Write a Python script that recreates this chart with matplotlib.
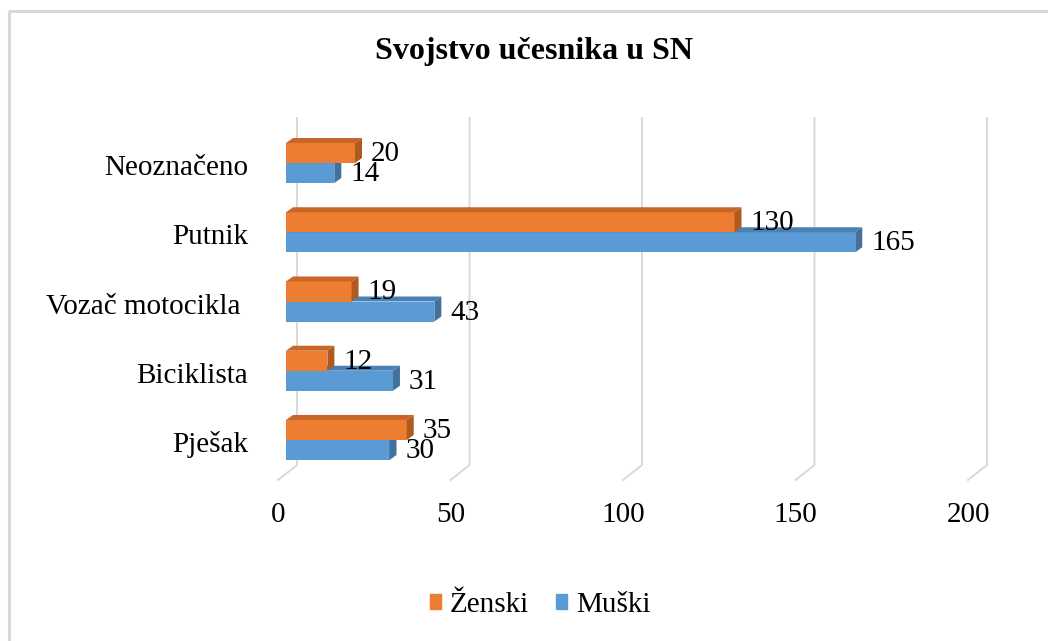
import matplotlib
matplotlib.use('Agg')
import matplotlib.pyplot as plt
from matplotlib.patches import Polygon, Patch
from matplotlib.lines import Line2D
from matplotlib.transforms import IdentityTransform, offset_copy, blended_transform_factory

categories = ['Pješak', 'Biciklista', 'Vozač motocikla ', 'Putnik', 'Neoznačeno']
zenski = [35, 12, 19, 130, 20]
muski = [30, 31, 43, 165, 14]
xticks = [0, 50, 100, 150, 200]

plt.rcParams['font.family'] = ['Liberation Serif', 'DejaVu Serif']
fs = 21

W, H = 1048, 641
fig = plt.figure(figsize=(W / 100, H / 100), dpi=100)
ax = fig.add_axes([286 / W, (H - 474.6) / H, 690 / W, 346.2 / H])
ax.set_xlim(0, 200)
ax.set_ylim(-0.5, 4.5)
ax.axis('off')

ident = IdentityTransform()
grid_col = '#D9D9D9'

# gridlines: back wall + diagonal floor edge
y0 = ax.transAxes.transform((0, 0))[1]
for g in xticks:
    xb = ax.transData.transform((g, 0))[0]
    ax.add_line(Line2D([xb - 8, xb + 11, xb + 11], [y0 - 5.4, y0 + 9.6, y0 + 356.6],
                       transform=ident, color=grid_col, lw=1.4, zorder=1, clip_on=False))

h = 0.289
dx, dy = 7, 5


def add_depth(bars, top_col, side_col, z):
    for b in bars:
        (x0, yb), (x1, yt) = ax.transData.transform([(b.get_x(), b.get_y()),
                                                      (b.get_x() + b.get_width(), b.get_y() + b.get_height())])
        top = [(x0, yt), (x1, yt), (x1 + dx, yt + dy), (x0 + dx, yt + dy)]
        side = [(x1, yb), (x1 + dx, yb + dy), (x1 + dx, yt + dy), (x1, yt)]
        ax.add_patch(Polygon(top, closed=True, transform=ident, fc=top_col, ec='none', zorder=z, clip_on=False))
        ax.add_patch(Polygon(side, closed=True, transform=ident, fc=side_col, ec='none', zorder=z, clip_on=False))


ypos = list(range(len(categories)))
yb = [y - h / 2 for y in ypos]
yo = [y + h / 2 for y in ypos]

bars_m = ax.barh(yb, muski, height=h, color='#5B9BD5', zorder=2)
add_depth(bars_m, '#4A80B4', '#41719C', 2.5)
bars_z = ax.barh(yo, zenski, height=h, color='#ED7D31', zorder=3)
add_depth(bars_z, '#C8662A', '#AE5A20', 3.5)

lab_tr = offset_copy(ax.transData, fig=fig, x=16, y=-1, units='dots')
for y, v in zip(yb, muski):
    ax.text(v, y, str(v), transform=lab_tr, ha='left', va='center', fontsize=fs, zorder=5)
for y, v in zip(yo, zenski):
    ax.text(v, y, str(v), transform=lab_tr, ha='left', va='center', fontsize=fs, zorder=5)

cat_tr = offset_copy(ax.transData, fig=fig, x=-38, y=-5, units='dots')
for y, c in zip(ypos, categories):
    ax.text(0, y, c, transform=cat_tr, ha='right', va='center', fontsize=fs)

tick_tr = offset_copy(blended_transform_factory(ax.transData, ident), fig=fig, x=-8, y=0, units='dots')
for g in xticks:
    ax.text(g, H - 515, str(g), transform=tick_tr, ha='center', va='center', fontsize=fs)

fig.text(534 / W, 1 - 51 / H, 'Svojstvo učesnika u SN', ha='center', va='center',
         fontsize=23, fontweight='bold')

handles = [Patch(color='#ED7D31', label='Ženski'), Patch(color='#5B9BD5', label='Muški')]
fig.legend(handles=handles, loc='center', bbox_to_anchor=(540 / W, 1 - 605 / H), ncol=2,
           frameon=False, fontsize=fs, handlelength=0.4, handleheight=0.4,
           handletextpad=0.3, columnspacing=0.9)

fig.add_artist(Line2D([9 / W, 9 / W, 1], [0, 1 - 11 / H, 1 - 11 / H], transform=fig.transFigure,
                      color=grid_col, lw=2.2))

fig.savefig('out.png', dpi=100)
